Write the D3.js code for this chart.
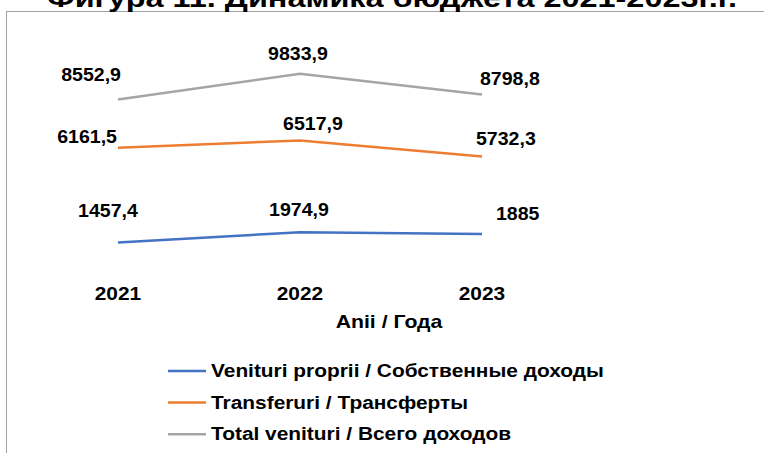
<!DOCTYPE html>
<html>
<head>
<meta charset="utf-8">
<script src="https://cdn.jsdelivr.net/npm/d3@7"></script>
<style>
  body { margin: 0; background: #fff; }
  text { font-family: "Liberation Sans", Arial, sans-serif; font-weight: bold; fill: #000; }
</style>
</head>
<body>
<svg class="chart"></svg>
<script>
const width = 764;
const height = 453;

// data
const years = ['2021', '2022', '2023'];
const seriesNames = [
  'Venituri proprii / Собственные доходы',
  'Transferuri / Трансферты',
  'Total venituri / Всего доходов'
];
const venituriProprii = [1457.4, 1974.9, 1885];
const transferuri = [6161.5, 6517.9, 5732.3];
const totalVenituri = [8552.9, 9833.9, 8798.8];
const titleText = 'Фигура 11. Динамика бюджета 2021-2023г.г.';
const axisTitle = 'Anii / Года';

const colors = ['#4472C4', '#ED7D31', '#A5A5A5'];

// label offsets (dx, dy, anchor) relative to each point - hand placed like in the original
const labelPos = [
  [[-10, -26, 'middle'], [-1, -16, 'middle'], [14, -14, 'start']],
  [[-1, -5, 'end'], [13, -11, 'middle'], [-6, -11, 'start']],
  [[3, -19, 'end'], [-2, -14, 'middle'], [-2, -10, 'start']]
];

const svg = d3.select('.chart')
  .attr('width', width)
  .attr('height', height);

// frame (only top and left edges are visible in the crop)
svg.append('rect')
  .attr('x', 6.5)
  .attr('y', 11.5)
  .attr('width', 900)
  .attr('height', 600)
  .attr('fill', 'none')
  .attr('stroke', '#a0a0a0')
  .attr('stroke-width', 1);

// title is cropped at the top in the source image
svg.append('text')
  .attr('x', 47)
  .attr('y', 7)
  .attr('font-size', 26)
  .attr('textLength', 690)
  .attr('lengthAdjust', 'spacingAndGlyphs')
  .text(titleText);

const x = d3.scalePoint()
  .domain(years)
  .range([118, 482]);

const y = d3.scaleLinear()
  .domain([0, 12000])
  .range([272, 30]);

const xAxis = d3.axisBottom(x).tickSize(0).tickPadding(0);

const xAxisGroup = svg.append('g')
  .attr('transform', 'translate(0,287)')
  .call(xAxis);
xAxisGroup.select('.domain').remove();
xAxisGroup.selectAll('text')
  .attr('font-size', 19)
  .attr('dy', '0.71em')
  .attr('font-family', null)
  .attr('transform', 'scale(1.1,1)');
xAxisGroup.selectAll('.tick')
  .attr('transform', d => `translate(${x(d)},0)`);

svg.append('text')
  .attr('transform', 'translate(389,328) scale(1.18,1)')
  .attr('text-anchor', 'middle')
  .attr('font-size', 18)
  .text(axisTitle);

const allSeries = [venituriProprii, transferuri, totalVenituri];

const line = d3.line()
  .x((d, i) => x(years[i]))
  .y(d => y(d));

allSeries.forEach((values, s) => {
  svg.append('path')
    .datum(values)
    .attr('d', line)
    .attr('fill', 'none')
    .attr('stroke', colors[s])
    .attr('stroke-width', 2.5);

  svg.selectAll('.lbl' + s)
    .data(values)
    .enter()
    .append('text')
    .attr('class', 'lbl' + s)
    .attr('transform', (d, i) =>
      `translate(${x(years[i]) + labelPos[s][i][0]},${y(d) + labelPos[s][i][1]}) scale(1.03,1)`)
    .attr('text-anchor', (d, i) => labelPos[s][i][2])
    .attr('font-size', 19)
    .text(d => String(d).replace('.', ','));
});

// legend
const legend = svg.append('g')
  .attr('transform', 'translate(168,371)');

seriesNames.forEach((name, i) => {
  const g = legend.append('g')
    .attr('transform', `translate(0,${i * 31.6})`);
  g.append('line')
    .attr('x1', 0)
    .attr('x2', 38)
    .attr('stroke', colors[i])
    .attr('stroke-width', 2.5);
  g.append('text')
    .attr('transform', 'translate(43,6) scale(1.16,1)')
    .attr('font-size', 18)
    .text(name);
});
</script>
</body>
</html>
